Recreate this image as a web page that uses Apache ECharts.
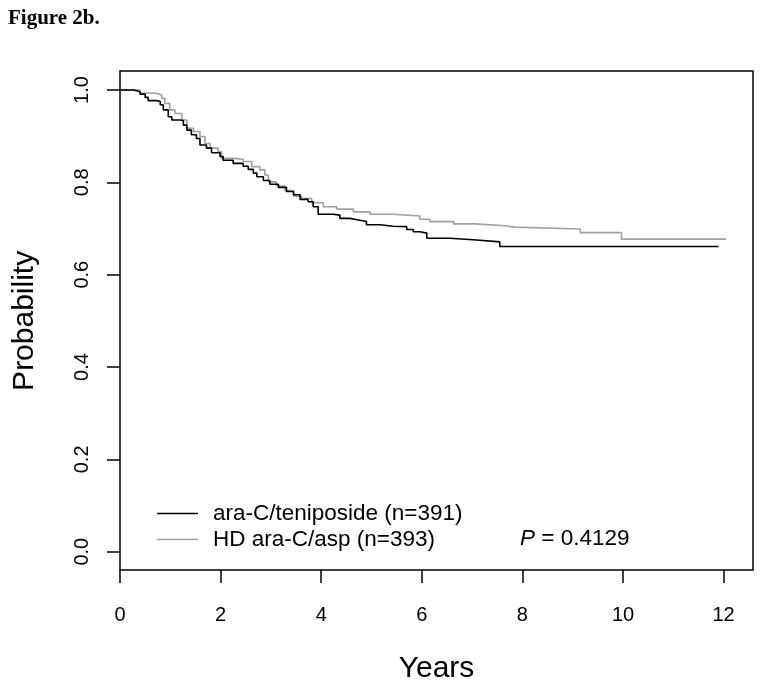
<!DOCTYPE html>
<html>
<head>
<meta charset="utf-8">
<script src="https://cdn.jsdelivr.net/npm/echarts@6/dist/echarts.min.js"></script>
<style>
html,body{margin:0;padding:0;background:#fff;}
#chart{width:762px;height:686px;}
</style>
</head>
<body>
<div id="chart"></div>
<script>
// Data (Kaplan-Meier step curves)
var blackTimes = [0, 0.27, 0.40, 0.50, 0.56, 0.73, 0.80, 0.86, 0.96, 1.03, 1.19, 1.26, 1.33, 1.42, 1.52, 1.59, 1.72, 1.82, 1.99, 2.05, 2.25, 2.45, 2.55, 2.65, 2.72, 2.85, 2.98, 3.15, 3.31, 3.45, 3.58, 3.74, 3.84, 3.94, 4.24, 4.37, 4.57, 4.77, 4.90, 5.17, 5.43, 5.70, 5.83, 5.96, 6.10, 6.56, 7.09, 7.55, 11.90];
var blackSurv = [1.000, 0.996, 0.991, 0.984, 0.977, 0.975, 0.968, 0.957, 0.942, 0.935, 0.934, 0.924, 0.913, 0.903, 0.895, 0.881, 0.874, 0.864, 0.856, 0.848, 0.841, 0.835, 0.828, 0.820, 0.812, 0.804, 0.796, 0.789, 0.780, 0.773, 0.763, 0.758, 0.747, 0.731, 0.729, 0.722, 0.718, 0.715, 0.708, 0.705, 0.704, 0.698, 0.693, 0.690, 0.679, 0.675, 0.671, 0.661, 0.661];
var grayTimes = [0, 0.40, 0.73, 0.83, 0.89, 0.99, 1.09, 1.23, 1.33, 1.46, 1.59, 1.69, 1.79, 1.95, 2.02, 2.25, 2.45, 2.62, 2.78, 2.88, 2.95, 3.11, 3.28, 3.45, 3.61, 3.81, 4.04, 4.31, 4.64, 4.97, 5.43, 5.96, 6.16, 6.63, 7.06, 7.65, 7.85, 9.15, 9.97, 12.10];
var graySurv = [1.000, 0.993, 0.989, 0.982, 0.971, 0.957, 0.949, 0.935, 0.917, 0.910, 0.899, 0.884, 0.874, 0.866, 0.852, 0.850, 0.845, 0.834, 0.827, 0.816, 0.801, 0.792, 0.782, 0.770, 0.765, 0.756, 0.747, 0.742, 0.736, 0.731, 0.727, 0.720, 0.715, 0.710, 0.706, 0.703, 0.699, 0.691, 0.677, 0.677];
var seriesNames = ['ara-C/teniposide (n=391)', 'HD ara-C/asp (n=393)'];
var xMin = 0, xMax = 12, xStep = 2;
var yMin = 0, yMax = 1, yStep = 0.2;
var pText = '0.4129';

function zip(a, b) { return a.map(function (t, i) { return [t, b[i]]; }); }

var chart = echarts.init(document.getElementById('chart'), null, {renderer: 'canvas'});
var FONT = '"Liberation Sans", Arial, sans-serif';
chart.setOption({
  animation: false,
  backgroundColor: '#fff',
  textStyle: {fontFamily: FONT},
  grid: [
    // data area: x 0..12, y 0..1
    {left: 120, top: 90, width: 603.6, height: 461.7, show: false, outerBoundsMode: 'none', containLabel: false},
    // x-axis strip along the bottom of the frame (same x scale)
    {left: 120, top: 71, width: 603.6, height: 499, show: false, outerBoundsMode: 'none', containLabel: false},
    // plot frame (R-style box, slightly larger than data range)
    {left: 120, top: 71, width: 633, height: 499, show: true, borderColor: '#000', borderWidth: 1.5, backgroundColor: 'transparent', outerBoundsMode: 'none', containLabel: false}
  ],
  xAxis: [{
    gridIndex: 0, type: 'value', min: xMin, max: xMax, show: false
  }, {
    gridIndex: 1, type: 'value', min: xMin, max: xMax, interval: xStep,
    axisLine: {show: false},
    axisTick: {show: true, inside: false, length: 13, lineStyle: {color: '#000', width: 1.5}},
    axisLabel: {fontSize: 20, color: '#000', margin: 35, fontFamily: FONT},
    splitLine: {show: false}
  }, {
    gridIndex: 2, type: 'value', min: 0, max: 1,
    name: 'Years', nameLocation: 'middle', nameGap: 84,
    nameTextStyle: {fontSize: 30, color: '#000', fontFamily: FONT},
    axisLine: {show: false}, axisTick: {show: false}, axisLabel: {show: false}, splitLine: {show: false}
  }],
  yAxis: [{
    gridIndex: 0, type: 'value', min: yMin, max: yMax, interval: yStep,
    name: 'Probability', nameLocation: 'middle', nameGap: 80, nameRotate: 90,
    nameTextStyle: {fontSize: 30, color: '#000', fontFamily: FONT},
    axisLine: {show: false},
    axisTick: {show: true, inside: false, length: 13, lineStyle: {color: '#000', width: 1.5}},
    axisLabel: {fontSize: 20, color: '#000', margin: 28, rotate: 90,
      formatter: function (v) { return v.toFixed(1); }, fontFamily: FONT},
    splitLine: {show: false}
  }, {
    gridIndex: 1, type: 'value', min: 0, max: 1, show: false
  }, {
    gridIndex: 2, type: 'value', min: 0, max: 1, show: false
  }],
  legend: {
    orient: 'vertical', left: 152, top: 497, itemWidth: 41, itemHeight: 1.6, itemGap: 3,
    icon: 'rect',
    data: seriesNames,
    textStyle: {fontSize: 22.5, color: '#000', padding: [0, 0, 0, 10], fontFamily: FONT}
  },
  graphic: [
    {type: 'text', left: 8, top: 8, style: {text: 'Figure 2b.', font: 'bold 21px "Liberation Serif", "Times New Roman", serif', fill: '#000'}},
    {type: 'text', left: 520, top: 527, style: {
      text: '{i|P} = ' + pText,
      rich: {i: {fontStyle: 'italic', fontSize: 22.5, fontFamily: FONT, fill: '#000'}},
      font: '22.5px "Liberation Sans", Arial, sans-serif', fill: '#000'}}
  ],
  series: [
    {name: seriesNames[0], type: 'line', step: 'end', showSymbol: false, symbol: 'none', z: 3, clip: false,
      xAxisIndex: 0, yAxisIndex: 0,
      lineStyle: {color: '#000', width: 1.6}, itemStyle: {color: '#000'},
      data: zip(blackTimes, blackSurv)},
    {name: seriesNames[1], type: 'line', step: 'end', showSymbol: false, symbol: 'none', z: 2, clip: false,
      xAxisIndex: 0, yAxisIndex: 0,
      lineStyle: {color: '#a0a0a0', width: 1.6}, itemStyle: {color: '#a0a0a0'},
      data: zip(grayTimes, graySurv)}
  ]
});
</script>
</body>
</html>
